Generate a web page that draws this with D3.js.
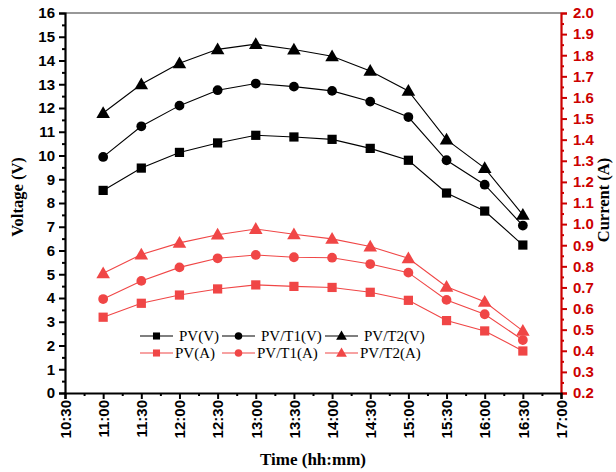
<!DOCTYPE html>
<html>
<head>
<meta charset="utf-8">
<script src="https://cdn.jsdelivr.net/npm/d3@7"></script>
<style>
  html, body { margin: 0; padding: 0; background: #fff; }
  svg { display: block; font-family: "Liberation Serif", "Times New Roman", serif; }
  .tick text { font-weight: bold; font-size: 15px; }
</style>
</head>
<body>
<svg id="chart" width="616" height="472"></svg>
<script>
// Measurement times (hh:mm)
const times = ["11:00", "11:30", "12:00", "12:30", "13:00", "13:30",
               "14:00", "14:30", "15:00", "15:30", "16:00", "16:30"];

// Voltage series (V)
const pvV   = [8.53, 9.47, 10.13, 10.53, 10.85, 10.78, 10.68, 10.30, 9.80, 8.42, 7.66, 6.23];
const pvt1V = [9.94, 11.23, 12.10, 12.75, 13.03, 12.90, 12.72, 12.27, 11.62, 9.80, 8.77, 7.05];
const pvt2V = [11.79, 13.00, 13.88, 14.47, 14.69, 14.46, 14.18, 13.56, 12.72, 10.67, 9.47, 7.50];

// Current series (A)
const pvA   = [0.559, 0.625, 0.664, 0.693, 0.712, 0.705, 0.700, 0.677, 0.639, 0.543, 0.494, 0.399];
const pvt1A = [0.645, 0.731, 0.795, 0.838, 0.854, 0.843, 0.841, 0.811, 0.770, 0.641, 0.573, 0.451];
const pvt2A = [0.767, 0.856, 0.911, 0.950, 0.977, 0.952, 0.930, 0.894, 0.838, 0.703, 0.632, 0.494];

// Axis tick values
const xTicks = ["10:30", "11:00", "11:30", "12:00", "12:30", "13:00", "13:30",
                "14:00", "14:30", "15:00", "15:30", "16:00", "16:30", "17:00"];
const voltTicks = d3.range(0, 17, 1);
const currTicks = d3.range(2, 21, 1).map(d => d / 10);

const toHours = s => { const [h, m] = s.split(":").map(Number); return h + m / 60; };
const fmtTime = h => {
  const hh = Math.floor(h + 1e-9), mm = Math.round((h - hh) * 60);
  return hh + ":" + String(mm).padStart(2, "0");
};

const svg = d3.select("#chart");
const L = 65, R = 561, T = 13, B = 393;
const BLACK = "#000", RED = "#f04646", AXRED = "#cc0000";

const x  = d3.scaleLinear().domain([toHours(xTicks[0]), toHours(xTicks[xTicks.length - 1])]).range([L, R]);
const yV = d3.scaleLinear().domain([0, 16]).range([B, T]);
const yA = d3.scaleLinear().domain([0.2, 2.0]).range([B, T]);

// top frame line
svg.append("line").attr("x1", L).attr("x2", R).attr("y1", T).attr("y2", T)
  .attr("stroke", "#333").attr("stroke-width", 1.2);

// ---- left (voltage) axis ----
const gL = svg.append("g").attr("transform", `translate(${L},0)`);
gL.call(d3.axisLeft(yV).tickValues(d3.range(0.5, 16, 1)).tickSize(3).tickFormat(""));
gL.call(g => g.selectAll(".tick line").attr("stroke-width", 2));
const gL2 = svg.append("g").attr("transform", `translate(${L},0)`);
gL2.call(d3.axisLeft(yV).tickValues(voltTicks).tickSize(6).tickPadding(4).tickFormat(d3.format("d")));
gL2.selectAll(".tick line").attr("stroke-width", 2);
gL2.selectAll(".tick text").attr("fill", BLACK);
gL2.select(".domain").attr("stroke-width", 2.2);
gL.select(".domain").remove();

// ---- right (current) axis ----
const gR = svg.append("g").attr("transform", `translate(${R},0)`);
gR.call(d3.axisRight(yA).tickValues(d3.range(0.25, 2.0, 0.1)).tickSize(3).tickFormat(""));
gR.selectAll(".tick line").attr("stroke", AXRED).attr("stroke-width", 2);
gR.select(".domain").remove();
const gR2 = svg.append("g").attr("transform", `translate(${R},0)`);
gR2.call(d3.axisRight(yA).tickValues(currTicks).tickSize(6).tickPadding(6).tickFormat(d3.format(".1f")));
gR2.selectAll(".tick line").attr("stroke", AXRED).attr("stroke-width", 2);
gR2.selectAll(".tick text").attr("fill", AXRED);
gR2.select(".domain").attr("stroke", AXRED).attr("stroke-width", 2.2);

// ---- bottom (time) axis ----
const gB = svg.append("g").attr("transform", `translate(0,${B})`);
gB.call(d3.axisBottom(x).tickValues(d3.range(10.75, 17, 0.5)).tickSize(3).tickFormat(""));
gB.selectAll(".tick line").attr("stroke-width", 2);
gB.select(".domain").remove();
const gB2 = svg.append("g").attr("transform", `translate(0,${B})`);
gB2.call(d3.axisBottom(x).tickValues(xTicks.map(toHours)).tickSize(6).tickFormat(fmtTime));
gB2.selectAll(".tick line").attr("stroke-width", 2);
gB2.select(".domain").attr("stroke-width", 2.2);
gB2.selectAll(".tick text")
  .attr("fill", BLACK)
  .attr("transform", "rotate(-90)")
  .attr("text-anchor", "end")
  .attr("x", -7).attr("y", 0).attr("dy", "0.35em");

// ---- axis titles ----
svg.append("text").attr("transform", "translate(23,197) rotate(-90)")
  .attr("text-anchor", "middle").attr("font-weight", "bold").attr("font-size", 16.5)
  .text("Voltage (V)");
svg.append("text").attr("transform", "translate(609,200) rotate(-90)")
  .attr("text-anchor", "middle").attr("font-weight", "bold").attr("font-size", 16.5)
  .text("Current (A)");
svg.append("text").attr("x", (L + R) / 2 + 0).attr("y", 465)
  .attr("text-anchor", "middle").attr("font-weight", "bold").attr("font-size", 17)
  .text("Time (hh:mm)");

// ---- series ----
const hours = times.map(toHours);
const series = [
  { name: "PV(V)",    vals: pvV,   y: yV, color: BLACK, shape: "square" },
  { name: "PV/T1(V)", vals: pvt1V, y: yV, color: BLACK, shape: "circle" },
  { name: "PV/T2(V)", vals: pvt2V, y: yV, color: BLACK, shape: "triangle" },
  { name: "PV(A)",    vals: pvA,   y: yA, color: RED,   shape: "square" },
  { name: "PV/T1(A)", vals: pvt1A, y: yA, color: RED,   shape: "circle" },
  { name: "PV/T2(A)", vals: pvt2A, y: yA, color: RED,   shape: "triangle" }
];

const symType = { square: d3.symbolSquare, circle: d3.symbolCircle, triangle: d3.symbolTriangle };
const symSize = { square: 85, circle: 75, triangle: 80 };
const legSize = { square: 50, circle: 45, triangle: 50 };

series.forEach(s => {
  const pts = hours.map((h, i) => [x(h), s.y(s.vals[i])]);
  svg.append("path").attr("d", d3.line()(pts))
    .attr("fill", "none").attr("stroke", s.color).attr("stroke-width", 1.1);
  svg.append("g").selectAll("path").data(pts).join("path")
    .attr("transform", d => `translate(${d[0]},${d[1] + (s.shape === "triangle" ? 1 : 0)})`)
    .attr("d", d3.symbol(symType[s.shape], symSize[s.shape]))
    .attr("fill", s.color);
});

// ---- legend ----
const legCols = [140, 222, 325];
const legRows = [336, 353];
const legW = [33, 33, 33];
series.forEach((s, i) => {
  const col = i % 3, row = Math.floor(i / 3);
  const x0 = legCols[col], yy = legRows[row];
  const g = svg.append("g");
  g.append("line").attr("x1", x0).attr("x2", x0 + legW[col]).attr("y1", yy).attr("y2", yy)
    .attr("stroke", s.color).attr("stroke-width", 1.1);
  g.append("path").attr("transform", `translate(${x0 + legW[col] / 2},${yy + (s.shape === "triangle" ? 0.7 : 0)})`)
    .attr("d", d3.symbol(symType[s.shape], legSize[s.shape])).attr("fill", s.color);
  g.append("text").attr("x", x0 + legW[col] + (row === 0 ? 6 : 2)).attr("y", yy + 5)
    .attr("font-size", 15).attr("fill", BLACK).text(s.name);
});
</script>
</body>
</html>
